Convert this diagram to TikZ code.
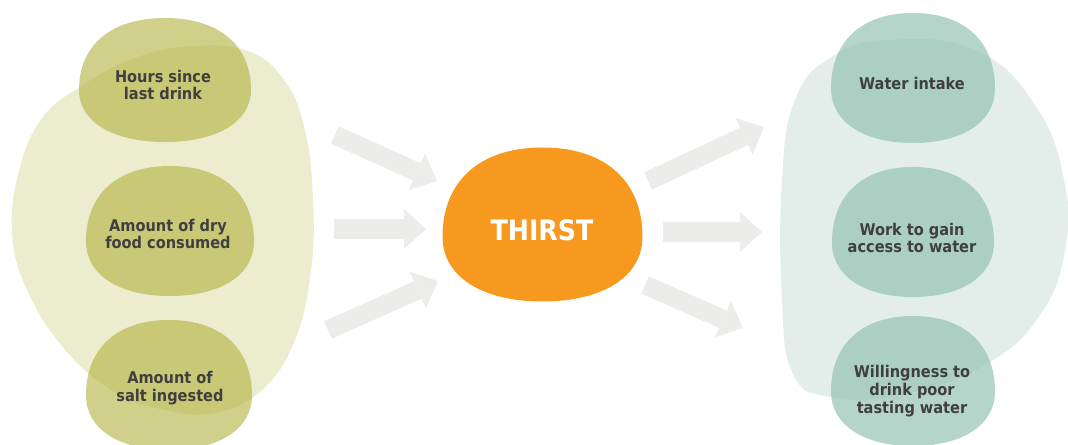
\documentclass[tikz,border=0pt]{standalone}
\usepackage{fontspec}
\setmainfont{DejaVu Sans Condensed}
\usepackage{tikz}
\usetikzlibrary{positioning,arrows.meta,backgrounds}
\definecolor{oliveback}{HTML}{ECECCE}
\definecolor{olivecause}{HTML}{B0B03C}
\definecolor{tealback}{HTML}{E3EEEA}
\definecolor{tealeffect}{HTML}{96C3B4}
\definecolor{thirstorange}{HTML}{F7991E}
\definecolor{flowgray}{HTML}{ECECEA}
\definecolor{labelgray}{HTML}{3F3F3F}

% dome-shaped blob: #1 style, #2 centre, #3 half width, #4 half height
\newcommand{\blobdome}[4]{%
  \fill[#1, shift={(#2)}, xscale=#3, yscale=#4]
    (-1,0.16) .. controls (-1,-0.56) and (-0.63,-1) .. (0,-1)
    .. controls (0.63,-1) and (1,-0.56) .. (1,0.16)
    .. controls (1,0.68) and (0.6,1) .. (0,1)
    .. controls (-0.6,1) and (-1,0.68) .. cycle;}

\begin{document}
\begin{tikzpicture}[x=0.025cm, y=-0.025cm,
    causelabel/.style={font=\bfseries\fontsize{11.5}{12.6}\selectfont,
      text=labelgray, align=center, inner sep=0pt},
    causeblob/.style={fill=olivecause, fill opacity=0.6},
    effectblob/.style={fill=tealeffect, fill opacity=0.7},
    flow/.style={line width=0.475cm, draw=flowgray,
      -{Triangle[length=0.55cm, width=1cm, line width=0pt]}},
  ]
  \useasboundingbox (0,0) rectangle (1068,445);

  % Causes on the left
  \node[causelabel] (hours) at (163,85) {Hours since\\last drink};
  \node[causelabel] (dryfood) at (168,234) {Amount of dry\\food consumed};
  \node[causelabel] (salt) at (170,388) {Amount of\\salt ingested};

  % Thirst in the middle
  \node[font=\bfseries\fontsize{20}{24}\selectfont, text=white,
    inner sep=0pt] (thirst) at (542,230) {THIRST};

  % Effects on the right
  \node[causelabel] (intake) at (912,83) {Water intake};
  \node[causelabel] (work) at (912,238) {Work to gain\\access to water};
  \node[causelabel] (poor) at (912,391)
    {Willingness to\\drink poor\\tasting water};

  \begin{scope}[on background layer]
    \fill[oliveback] plot[smooth cycle, tension=0.7] coordinates {
      (183,47) (245,50) (284,80) (305,130) (313,200) (311,270) (295,340)
      (262,390) (215,413) (165,410) (115,392) (67,352) (28,292) (12,232)
      (20,167) (43,117) (80,87) (130,60)};
    \fill[tealback] plot[smooth cycle, tension=0.75] coordinates {
      (887,40) (975,50) (1035,105) (1064,180) (1065,250) (1040,315)
      (985,365) (900,395) (830,397) (793,374) (782,300) (782,180)
      (795,100) (830,58)};
    \blobdome{causeblob}{165,80}{86}{62}
    \blobdome{causeblob}{170,231}{84}{65}
    \blobdome{causeblob}{169,385}{83}{65}
    \blobdome{effectblob}{913,78}{82}{65}
    \blobdome{effectblob}{913,232}{81}{65}
    \blobdome{effectblob}{913,381}{82}{65}
    \blobdome{fill=thirstorange}{542.5,224.5}{100}{77}
  \end{scope}

  % Arrows in and out
  \coordinate (in1s) at (335,135);
  \coordinate (in1e) at (437,181);
  \coordinate (in2s) at (334,229);
  \coordinate (in2e) at (426,229);
  \coordinate (in3s) at (328,330);
  \coordinate (in3e) at (438,281);
  \coordinate (out1s) at (648,181);
  \coordinate (out1e) at (764,127);
  \coordinate (out2s) at (663,232);
  \coordinate (out2e) at (762,232);
  \coordinate (out3s) at (645,285);
  \coordinate (out3e) at (743,328);
  \draw[flow] (in1s) -- (in1e);
  \draw[flow] (in2s) -- (in2e);
  \draw[flow] (in3s) -- (in3e);
  \draw[flow] (out1s) -- (out1e);
  \draw[flow] (out2s) -- (out2e);
  \draw[flow] (out3s) -- (out3e);
\end{tikzpicture}
\end{document}
